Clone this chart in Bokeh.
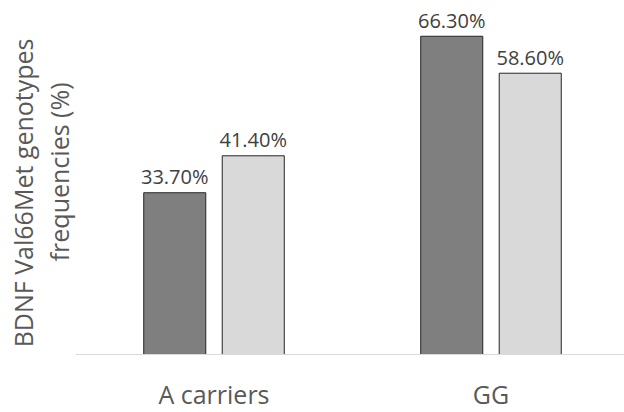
from bokeh.plotting import figure
from bokeh.models import ColumnDataSource, Range1d, Title, Span
from bokeh.core.properties import value
from bokeh.embed import file_html
from bokeh.resources import INLINE

categories = ["A carriers", "GG"]
series_dark = [33.7, 66.3]
series_light = [41.4, 58.6]
y_title_line1 = "BDNF Val66Met genotypes"
y_title_line2 = "frequencies (%)"

FONT = "Open Sans"
offset = 0.1417
bw = 0.224

idx = list(range(len(categories)))
src_dark = ColumnDataSource(dict(
    x=[i - offset for i in idx], top=series_dark,
    lab=[f"{v:.2f}%" for v in series_dark]))
src_light = ColumnDataSource(dict(
    x=[i + offset for i in idx], top=series_light,
    lab=[f"{v:.2f}%" for v in series_light]))
src_cat = ColumnDataSource(dict(x=idx, y=[0] * len(idx), lab=categories))

p = figure(width=624, height=412, output_backend="svg", toolbar_location=None,
           x_range=Range1d(-0.5, 1.482), y_range=Range1d(-12.08, 73.75),
           min_border_left=75, min_border_right=0, min_border_top=0,
           min_border_bottom=0)
p.outline_line_color = None
p.xgrid.visible = False
p.ygrid.visible = False
p.yaxis.visible = False
p.xaxis.visible = False
p.background_fill_color = "white"

p.add_layout(Span(location=0, dimension="width", line_color="#d9d9d9",
                  line_width=1))

p.vbar(x="x", top="top", bottom=0, width=bw, source=src_dark,
       fill_color="#7f7f7f", line_color="#262626", line_width=1)
p.vbar(x="x", top="top", bottom=0, width=bw, source=src_light,
       fill_color="#d9d9d9", line_color="#262626", line_width=1)

for s in (src_dark, src_light):
    p.text(x="x", y="top", text="lab", source=s, text_align="center",
           text_baseline="alphabetic", y_offset=-16, text_color="#404040",
           text_font=value(FONT), text_font_size="20px")

p.text(x="x", y="y", text="lab", source=src_cat, text_align="center",
       text_baseline="alphabetic", y_offset=39, text_color="#595959",
       text_font=value(FONT), text_font_size="25px")

t2 = Title(text=y_title_line2, align="right", offset=82, text_font=FONT,
           text_font_size="25px", text_font_style="normal",
           text_color="#595959", standoff=0)
t1 = Title(text=y_title_line1, align="right", offset=38, text_font=FONT,
           text_font_size="25px", text_font_style="normal",
           text_color="#595959", standoff=0)
p.add_layout(t2, "left")
p.add_layout(t1, "left")

open("out.html", "w").write(file_html(p, INLINE))
